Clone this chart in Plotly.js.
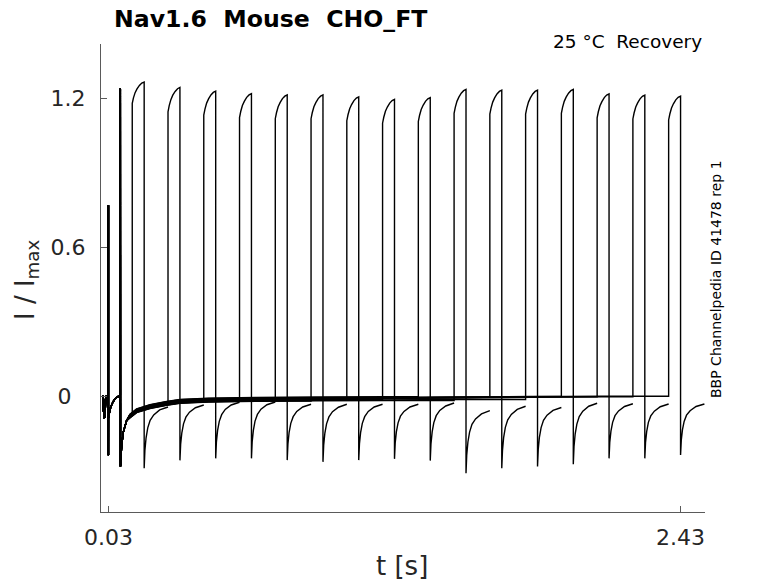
<!DOCTYPE html>
<html>
<head>
<meta charset="utf-8">
<script src="https://cdn.plot.ly/plotly-3.0.1.min.js"></script>
<style>html,body{margin:0;padding:0;background:#fff;}#chart{width:778px;height:583px;}</style>
</head>
<body>
<div id="chart"></div>
<script>
// ---- data ----
// test pulse onset times [s] (one sweep per test pulse)
const testStart = [0.13, 0.28, 0.43, 0.58, 0.73, 0.88, 1.03, 1.18, 1.33, 1.48, 1.63, 1.78, 1.93, 2.08, 2.23, 2.38];

// noisy holding segment before the conditioning pulse (shared by all sweeps)
const preT = [0.006, 0.008, 0.0095, 0.011, 0.013, 0.015, 0.018, 0.022, 0.0299];
const preY = [0.003, -0.06, -0.01, -0.088, -0.02, -0.085, -0.03, 0.002, 0];

// conditioning pulse 0.03 - 0.08 s (shared)
const condT = [0.03, 0.03, 0.03, 0.0301, 0.035, 0.04, 0.05, 0.06, 0.071, 0.0799, 0.08, 0.0805];
const condY = [0, 0.77, -0.237, -0.088, -0.062, -0.042, -0.021, -0.008, -0.001, 0, 1.24, -0.283];

// tail after the conditioning pulse (shared profile)
const tailT = [0.0854, 0.0922, 0.1064, 0.1203, 0.1484, 0.2043, 0.2744, 0.3303, 0.45, 0.65, 0.9, 1.2, 1.5, 1.8, 2.1, 2.4];
const tailY = [-0.2, -0.145, -0.098, -0.078, -0.057, -0.04, -0.027, -0.019, -0.014, -0.011, -0.009, -0.008, -0.006, -0.003, -0.001, 0];
// per-sweep small baseline differences (thickness of the overlapping band)
const tailShift = [0.004, -0.004, 0.002, -0.006, 0.005, -0.008, 0.0, -0.005, 0.006, -0.009, 0.003, -0.007, 0.002, 0.001, -0.001, 0.001];

// during each test pulse: time offsets and values
const plateauDt = [0, 0.005, 0.012, 0.02, 0.03, 0.04, 0.05];
const plateauY = [
  [1.18, 1.202, 1.223, 1.238, 1.252, 1.262, 1.266],
  [1.146, 1.171, 1.195, 1.213, 1.228, 1.239, 1.244],
  [1.133, 1.157, 1.181, 1.198, 1.214, 1.224, 1.229],
  [1.123, 1.147, 1.171, 1.188, 1.204, 1.214, 1.219],
  [1.118, 1.142, 1.166, 1.183, 1.199, 1.209, 1.214],
  [1.118, 1.142, 1.166, 1.183, 1.199, 1.209, 1.214],
  [1.11, 1.134, 1.158, 1.175, 1.191, 1.201, 1.206],
  [1.10, 1.124, 1.148, 1.165, 1.181, 1.191, 1.196],
  [1.107, 1.131, 1.155, 1.172, 1.188, 1.198, 1.203],
  [1.14, 1.164, 1.188, 1.205, 1.221, 1.231, 1.236],
  [1.137, 1.161, 1.185, 1.202, 1.218, 1.228, 1.233],
  [1.137, 1.161, 1.185, 1.202, 1.218, 1.228, 1.233],
  [1.14, 1.164, 1.188, 1.205, 1.221, 1.231, 1.236],
  [1.122, 1.146, 1.17, 1.187, 1.203, 1.213, 1.218],
  [1.117, 1.141, 1.165, 1.182, 1.198, 1.208, 1.213],
  [1.113, 1.137, 1.161, 1.178, 1.194, 1.204, 1.209]
];

// after each test pulse: time offsets from pulse end and values
const recoveryDt = [0, 0.003, 0.008, 0.015, 0.025, 0.04, 0.065, 0.1];
const recoveryY = [
  [-0.29, -0.218, -0.167, -0.127, -0.097, -0.075, -0.055, -0.043],
  [-0.258, -0.193, -0.147, -0.111, -0.084, -0.064, -0.046, -0.035],
  [-0.25, -0.184, -0.137, -0.101, -0.074, -0.053, -0.035, -0.024],
  [-0.25, -0.184, -0.137, -0.100, -0.073, -0.052, -0.034, -0.023],
  [-0.257, -0.192, -0.145, -0.109, -0.082, -0.061, -0.043, -0.032],
  [-0.264, -0.197, -0.148, -0.111, -0.083, -0.062, -0.044, -0.032],
  [-0.257, -0.192, -0.145, -0.109, -0.082, -0.061, -0.043, -0.032],
  [-0.252, -0.188, -0.142, -0.107, -0.080, -0.061, -0.043, -0.032],
  [-0.259, -0.192, -0.143, -0.106, -0.078, -0.057, -0.039, -0.027],
  [-0.31, -0.237, -0.184, -0.144, -0.113, -0.091, -0.071, -0.058],
  [-0.29, -0.218, -0.165, -0.125, -0.095, -0.073, -0.053, -0.04],
  [-0.283, -0.214, -0.164, -0.126, -0.097, -0.076, -0.057, -0.045],
  [-0.274, -0.203, -0.151, -0.112, -0.082, -0.06, -0.04, -0.028],
  [-0.25, -0.186, -0.14, -0.105, -0.078, -0.059, -0.041, -0.03],
  [-0.25, -0.186, -0.141, -0.105, -0.079, -0.06, -0.042, -0.031],
  [-0.236, -0.177, -0.134, -0.101, -0.076, -0.058, -0.041, -0.031]
];

const xTickVals = [0.03, 2.43];
const xTickText = ['0.03', '2.43'];
const yTickVals = [0, 0.6, 1.2];
const yTickText = ['0\u00a0\u00a0', '0.6', '1.2'];

// ---- build sweeps ----
const traces = testStart.map((ts, k) => {
  const x = [], y = [];
  preT.forEach((t, i) => { x.push(t); y.push(preY[i]); });
  condT.forEach((t, i) => { x.push(t); y.push(condY[i]); });
  let last = tailY[0];
  tailT.forEach((t, i) => {
    if (t < ts) { x.push(t); y.push(tailY[i] + (i > 2 ? tailShift[k] : 0)); last = y[y.length - 1]; }
  });
  x.push(ts); y.push(last);
  plateauDt.forEach((d, i) => { x.push(ts + d); y.push(plateauY[k][i]); });
  const te = ts + plateauDt[plateauDt.length - 1];
  recoveryDt.forEach((d, i) => { x.push(te + d); y.push(recoveryY[k][i]); });
  return {
    x: x, y: y, type: 'scatter', mode: 'lines',
    line: {color: '#000000', width: 1.4, simplify: false},
    hoverinfo: 'skip', showlegend: false
  };
});

const FONT = 'DejaVu Sans, Liberation Sans, sans-serif';
const layout = {
  width: 778, height: 583,
  margin: {l: 101, r: 73, t: 44, b: 71, pad: 0},
  paper_bgcolor: '#ffffff', plot_bgcolor: '#ffffff',
  font: {family: FONT, color: '#262626'},
  showlegend: false,
  title: {
    text: '<b>Nav1.6\u00a0\u00a0Mouse\u00a0\u00a0CHO_FT</b>',
    font: {family: FONT, size: 23.6, color: '#000000'},
    xref: 'container', yref: 'container',
    x: 114 / 778, xanchor: 'left', y: 1 - 19 / 583, yanchor: 'middle'
  },
  xaxis: {
    range: [-0.0011, 2.5325], showgrid: false, zeroline: false,
    showline: true, linecolor: '#5a5a5a', linewidth: 1, mirror: false,
    tickmode: 'array', tickvals: xTickVals, ticktext: xTickText,
    ticks: 'inside', ticklen: 6, tickcolor: '#5a5a5a', tickwidth: 1,
    tickfont: {family: FONT, size: 22, color: '#262626'},
    ticklabelstandoff: 6
  },
  yaxis: {
    range: [-0.466, 1.419], showgrid: false, zeroline: false,
    showline: true, linecolor: '#5a5a5a', linewidth: 1, mirror: false,
    tickmode: 'array', tickvals: yTickVals, ticktext: yTickText,
    ticks: 'inside', ticklen: 6, tickcolor: '#5a5a5a', tickwidth: 1,
    tickfont: {family: FONT, size: 22, color: '#262626'},
    ticklabelstandoff: 10
  },
  annotations: [
    {text: '25 °C\u00a0\u00a0Recovery', xref: 'paper', yref: 'paper',
     x: (704 - 101) / 604, y: (512 - 41) / 468, xanchor: 'right', yanchor: 'middle',
     showarrow: false, font: {family: FONT, size: 18.5, color: '#000000'}},
    {text: 'BBP Channelpedia ID 41478 rep 1', xref: 'paper', yref: 'paper',
     x: (716 - 101) / 604, y: (512 - 279) / 468, xanchor: 'center', yanchor: 'middle',
     textangle: -90, showarrow: false, font: {family: FONT, size: 14, color: '#000000'}},
    {text: 't [s]', xref: 'paper', yref: 'paper',
     x: (402 - 101) / 604, y: (512 - 566) / 468, xanchor: 'center', yanchor: 'middle',
     showarrow: false, font: {family: FONT, size: 26, color: '#262626'}},
    {text: 'I / I<sub>max</sub>', xref: 'paper', yref: 'paper',
     x: (26 - 101) / 604, y: (512 - 280) / 468, xanchor: 'center', yanchor: 'middle',
     textangle: -90, showarrow: false, font: {family: FONT, size: 26, color: '#262626'}}
  ]
};

Plotly.newPlot('chart', traces, layout, {staticPlot: true, displayModeBar: false});
</script>
</body>
</html>
